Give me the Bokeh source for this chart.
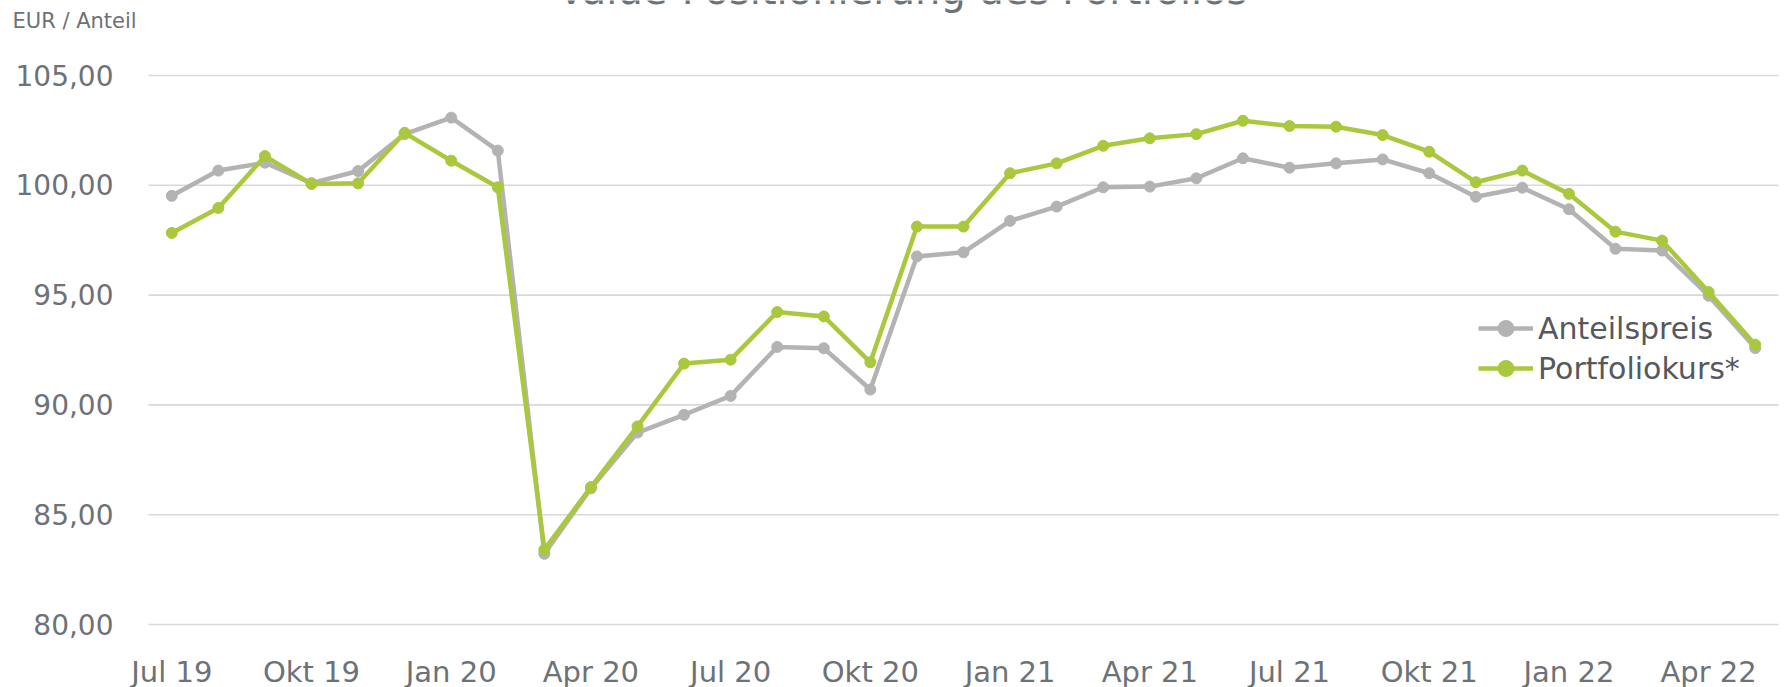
from bokeh.plotting import figure
from bokeh.models import (Range1d, Label, LabelSet, Legend, LegendItem,
                          ColumnDataSource)
from bokeh.core.properties import value
from bokeh.embed import file_html
from bokeh.resources import INLINE

months = ["Jul 19", "Aug 19", "Sep 19", "Okt 19", "Nov 19", "Dez 19",
          "Jan 20", "Feb 20", "Mrz 20", "Apr 20", "Mai 20", "Jun 20",
          "Jul 20", "Aug 20", "Sep 20", "Okt 20", "Nov 20", "Dez 20",
          "Jan 21", "Feb 21", "Mrz 21", "Apr 21", "Mai 21", "Jun 21",
          "Jul 21", "Aug 21", "Sep 21", "Okt 21", "Nov 21", "Dez 21",
          "Jan 22", "Feb 22", "Mrz 22", "Apr 22", "Mai 22"]

anteilspreis = [99.52, 100.67, 101.03, 100.10, 100.65, 102.33, 103.08, 101.58,
                83.22, 86.20, 88.74, 89.55, 90.41, 92.64, 92.58, 90.70,
                96.76, 96.95, 98.38, 99.03, 99.91, 99.94, 100.32, 101.23,
                100.80, 101.00, 101.18, 100.55, 99.48, 99.89, 98.91, 97.11,
                97.03, 94.97, 92.59]

portfoliokurs = [97.83, 98.97, 101.33, 100.06, 100.09, 102.39, 101.12, 99.91,
                 83.41, 86.26, 89.02, 91.88, 92.06, 94.23, 94.03, 91.94,
                 98.12, 98.12, 100.55, 101.00, 101.80, 102.14, 102.33, 102.94,
                 102.70, 102.67, 102.29, 101.53, 100.14, 100.67, 99.61, 97.89,
                 97.48, 95.14, 92.74]

y_ticks = [80, 85, 90, 95, 100, 105]
y_tick_labels = ["80,00", "85,00", "90,00", "95,00", "100,00", "105,00"]
x_tick_idx = list(range(0, 34, 3))
x_tick_labels = [months[i] for i in x_tick_idx]

title_text = "Value-Positionierung des Portfolios"
unit_text = "EUR / Anteil"

FONT = "DejaVu Sans"
GREY = "#b3b3b3"
GREEN = "#a9c83d"
TXT = "#6d7276"

W, H = 1785, 687
# plot area (gridline extent) inside the canvas, in pixels
AREA_L, AREA_R, AREA_T, AREA_B = 148, 1778, 75, 624
n = len(months)
y_lo, y_hi = min(y_ticks), max(y_ticks)
px_x = (AREA_R - AREA_L) / n
px_y = (AREA_B - AREA_T) / (y_hi - y_lo)
x_start = -0.5 - AREA_L / px_x
x_end = n - 0.5 + (W - AREA_R) / px_x
y_end = y_hi + AREA_T / px_y
y_start = y_lo - (H - AREA_B) / px_y

x = list(range(n))

p = figure(width=W, height=H, output_backend="svg", toolbar_location=None,
           x_range=Range1d(x_start, x_end), y_range=Range1d(y_start, y_end),
           min_border=0)
p.title.visible = False
p.outline_line_color = None
p.background_fill_color = "white"
p.border_fill_color = "white"
p.xaxis.visible = False
p.yaxis.visible = False
p.xgrid.visible = False
p.ygrid.visible = False

# horizontal value gridlines, spanning the category extent only
p.segment(x0=[-0.5] * len(y_ticks), x1=[n - 0.5] * len(y_ticks),
          y0=y_ticks, y1=y_ticks, line_color="#d9d9d9", line_width=1.6)

r1 = p.line(x, anteilspreis, line_color=GREY, line_width=4.5)
c1 = p.scatter(x, anteilspreis, size=11, fill_color=GREY, line_color=GREY)
r2 = p.line(x, portfoliokurs, line_color=GREEN, line_width=4.5)
c2 = p.scatter(x, portfoliokurs, size=11, fill_color=GREEN, line_color=GREEN)

# tick labels of the value axis
ysrc = ColumnDataSource(dict(x=[-0.5] * len(y_ticks), y=y_ticks,
                             t=y_tick_labels))
p.add_layout(LabelSet(x="x", y="y", text="t", source=ysrc, x_offset=-35,
                      y_offset=-10, text_align="right",
                      text_baseline="alphabetic", text_font=value(FONT),
                      text_font_size=value("28px"), text_color=TXT))
# tick labels of the month axis
xsrc = ColumnDataSource(dict(x=x_tick_idx, y=[y_lo] * len(x_tick_idx),
                             t=x_tick_labels))
p.add_layout(LabelSet(x="x", y="y", text="t", source=xsrc, y_offset=-57,
                      text_align="center", text_baseline="alphabetic",
                      text_font=value(FONT), text_font_size=value("29px"),
                      text_color=TXT))

legend = Legend(items=[LegendItem(label="Anteilspreis", renderers=[r1, c1]),
                       LegendItem(label="Portfoliokurs*", renderers=[r2, c2])],
                location=(1478, 299), orientation="vertical",
                glyph_width=55, glyph_height=40, label_height=40,
                label_standoff=5, spacing=0, padding=0, margin=0,
                label_text_font=FONT, label_text_font_size="30px",
                label_text_color="#55595d", border_line_color=None,
                background_fill_alpha=0)
p.add_layout(legend, "center")

p.add_layout(Label(x=-0.5, y=y_hi, x_offset=-136, y_offset=55,
                   text=unit_text, text_font=FONT, text_font_size="21px",
                   text_color=TXT, text_baseline="alphabetic"))
p.add_layout(Label(x=15.69, y=y_hi, y_offset=86, text=title_text,
                   text_font=FONT, text_font_size="40px", text_color=TXT,
                   text_align="center", text_baseline="alphabetic"))

open("out.html", "w").write(file_html(p, INLINE))
